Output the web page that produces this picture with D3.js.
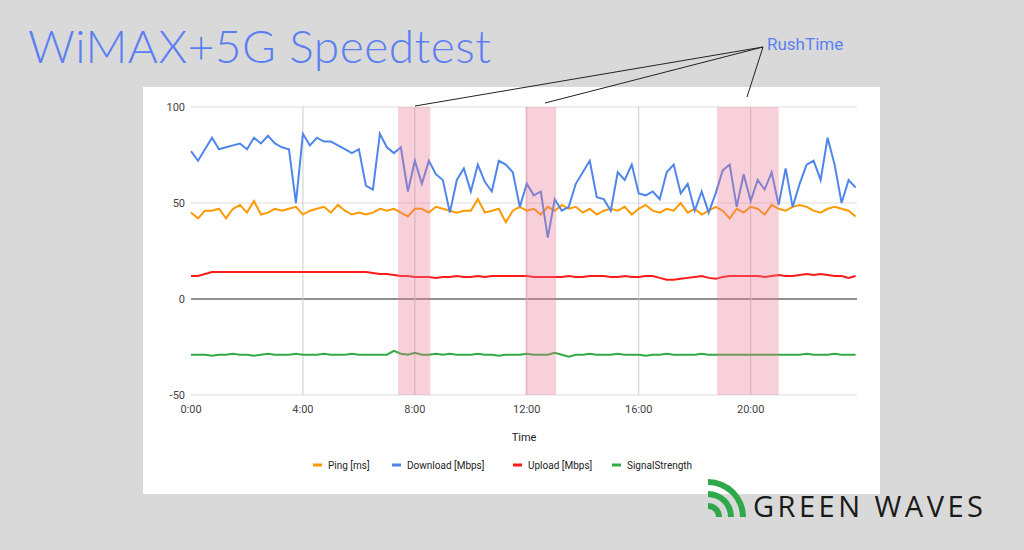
<!DOCTYPE html>
<html><head><meta charset="utf-8">
<script src="https://cdn.jsdelivr.net/npm/d3@7"></script>
<style>body{margin:0;background:#d9d9d9;font-family:Roboto,Arial,sans-serif}</style>
</head><body>
<svg id="c" width="1024" height="550"></svg>
<script>
// readings every 15 minutes, 0:00 .. 23:45
const download = [77,72,78,84,78,79,80,81,78,84,81,85,81,79,78,50,86,80,84,82,82,80,78,76,78,59,57,86,79,76,79,56,72,60,72,65,62,45,62,68,56,70,61,56,72,70,66,48,60,54,56,32,52,46,48,60,66,72,53,52,46,66,62,70,55,54,56,52,66,70,55,60,46,56,45,55,67,70,48,65,51,62,57,66,49,68,48,60,70,72,62,84,70,50,62,58]
const ping = [45,42,46,46,47,42,47,49,45,51,44,45,47,46,47,48,44,46,47,48,45,49,46,44,45,44,45,47,46,47,45,43,47,47,45,48,47,46,45,46,46,52,45,46,47,40,46,48,46,47,44,48,46,49,47,48,45,47,44,46,47,46,48,44,47,49,46,45,47,46,50,45,47,44,46,48,46,42,47,45,48,47,44,49,47,46,48,49,48,46,45,47,48,47,46,43]
const upload = [12,12,13,14,14,14,14,14,14,14,14,14,14,14,14,14,14,14,14,14,14,14,14,14,14,14,13.5,13,13,12.5,12,12,11.5,11.5,11.5,11,11.5,11.5,12,11.5,11.5,12,11.5,12,12,12,12,12,12,11.5,11.5,11.5,11.5,11.5,12,11.5,11.5,12,12,12,11.5,11.5,12,11.5,11.5,12,12,11,10,10,10.5,11,11.5,12,11,10.5,11.5,12,12,12,12,12,11.5,12,12.5,12,12,12.5,13,12.5,13,12.5,12,12,11,12]
const signal = [-29,-29,-29,-29.5,-29,-29,-28.5,-29,-29,-29.5,-29,-28.5,-29,-29,-29,-28.5,-29,-29,-29,-28.5,-29,-29,-29,-28.5,-29,-29,-29,-29,-29,-27,-28.5,-29,-28,-29,-29,-28.5,-29,-28.5,-29,-29,-29,-28.5,-29,-29,-29.5,-29,-29,-29,-28.5,-29,-29,-29,-28,-29,-30,-29,-29,-28.5,-29,-29,-29,-28.5,-29,-29,-29,-29.5,-29,-29,-28.5,-29,-29,-29,-29,-28.5,-29,-29,-29,-29,-29,-29,-29,-29,-29,-29,-29,-29,-29,-29,-28.5,-29,-29,-29,-28.5,-29,-29,-29]
const rushTimes = [[7.4, 8.55], [11.95, 13.05], [18.8, 21.0]]
const xTicks = [0, 4, 8, 12, 16, 20]
const yTicks = [-50, 0, 50, 100]
const seriesNames = ["Ping [ms]", "Download [Mbps]", "Upload [Mbps]", "SignalStrength"]
const seriesColors = ["#ff9900", "#4f86ec", "#ff1a1a", "#33aa44"]

const svg = d3.select("#c")
svg.append("text").attr("x", 28).attr("y", 63).attr("font-size", 46).attr("fill", "#5b7ff2")
	.attr("font-family", "Lato, 'Open Sans', sans-serif").attr("font-weight", 300).attr("letter-spacing", 0.5).text("WiMAX+5G Speedtest")
svg.append("rect").attr("x", 143).attr("y", 87).attr("width", 737).attr("height", 407).attr("fill", "#fff")

const x = d3.scaleLinear().domain([0, 23.8]).range([191, 857])
const y = d3.scaleLinear().domain([-50, 100]).range([395, 107])
const hours = download.map((d, i) => i / 4)

const g = svg.append("g")
g.selectAll(".hg").data(yTicks).join("line")
	.attr("x1", x(0)).attr("x2", x(23.8)).attr("y1", d => y(d)).attr("y2", d => y(d))
	.attr("stroke", d => d == 0 ? "#222" : "#ddd")
g.selectAll(".vg").data(xTicks.slice(1)).join("line")
	.attr("x1", d => x(d)).attr("x2", d => x(d)).attr("y1", y(100)).attr("y2", y(-50)).attr("stroke", "#ccc")
g.selectAll(".yl").data(yTicks).join("text").attr("x", x(0) - 6).attr("y", d => y(d) + 4)
	.attr("text-anchor", "end").attr("font-size", 11).attr("fill", "#444").text(d => d)
g.selectAll(".xl").data(xTicks).join("text").attr("x", d => x(d)).attr("y", 413)
	.attr("text-anchor", "middle").attr("font-size", 11).attr("fill", "#444").text(d => d + ":00")
g.append("text").attr("x", 524).attr("y", 441).attr("text-anchor", "middle").attr("font-size", 11).attr("fill", "#222").text("Time")

const line = d3.line().x((d, i) => x(hours[i])).y(d => y(d))
;[ping, download, upload, signal].forEach((s, k) => {
	g.append("path").attr("d", line(s)).attr("fill", "none").attr("stroke", seriesColors[k]).attr("stroke-width", 2)
})

g.selectAll(".rush").data(rushTimes).join("rect")
	.attr("x", d => x(d[0])).attr("width", d => x(d[1]) - x(d[0])).attr("y", y(100)).attr("height", y(-50) - y(100))
	.attr("fill", "rgb(235,120,145)").attr("opacity", 0.35)

// legend
const lx = [313, 392, 513, 612]
seriesNames.forEach((n, k) => {
	g.append("line").attr("x1", lx[k]).attr("x2", lx[k] + 9).attr("y1", 465).attr("y2", 465).attr("stroke", seriesColors[k]).attr("stroke-width", 3)
	g.append("text").attr("x", lx[k] + 15).attr("y", 469).attr("font-size", 10).attr("fill", "#222").text(n)
})

// annotation
svg.append("text").attr("x", 767).attr("y", 50).attr("font-size", 17).attr("fill", "#5b7ff2").text("RushTime")
;[[415, 106], [545, 103], [747, 97]].forEach(p => {
	svg.append("line").attr("x1", 763).attr("y1", 47).attr("x2", p[0]).attr("y2", p[1]).attr("stroke", "#222")
})

// logo
const lg = svg.append("g").attr("transform", "translate(708,517)")
;[14, 26, 38].forEach(r => {
	lg.append("path").attr("d", d3.arc()({innerRadius: r - 6, outerRadius: r, startAngle: 0, endAngle: Math.PI / 2}))
		.attr("fill", "#2ea84a")
})
svg.append("text").attr("x", 753).attr("y", 517).attr("font-size", 29).attr("fill", "#1a1a1a").attr("font-weight", 500)
	.attr("letter-spacing", 3.5).attr("font-family", "'Open Sans', sans-serif").text("GREEN WAVES")
</script>
</body></html>
